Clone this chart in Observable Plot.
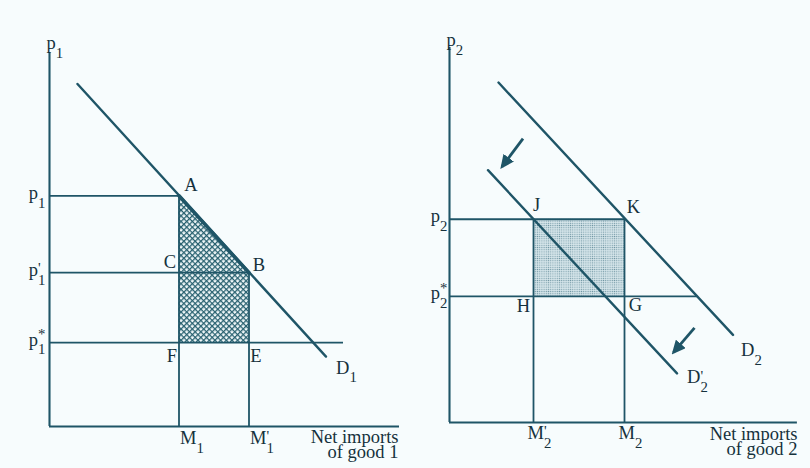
<!DOCTYPE html>
<html>
<head>
<meta charset="utf-8">
<script src="https://cdn.jsdelivr.net/npm/d3@7"></script>
<script src="https://cdn.jsdelivr.net/npm/@observablehq/plot@0.6"></script>
<style>
  html, body { margin: 0; padding: 0; background: #f7fcfd; }
  #page { position: relative; width: 810px; height: 468px; overflow: hidden; }
  .panel { position: absolute; top: 0; }
  #good1 { left: 0; }
  #good2 { left: 400px; }
</style>
</head>
<body>
<div id="page">
  <div class="panel" id="good1"></div>
  <div class="panel" id="good2"></div>
</div>
<script>
const ink = "#15313c";
const stroke = "#1f5567";
const serif = "Liberation Serif, Times New Roman, serif";

// ---- Market for good 1: a tariff cut lowers the price from p1 to p1'
const good1Demand = [{q: 8, p: 98}, {q: 79, p: 20}];
const good1Prices = [66, 44, 24];              // p1, p1', p1*
const good1PriceNames = ["p|1|", "p|1|'", "p|1|*"];
const good1PriceReach = [37, 57, 84];
const good1Imports = [37, 57];                 // M1, M1'
const good1ImportNames = ["M|1|", "M|1|'"];
const good1ImportHeight = [66, 44];
const good1Points = [
  {name: "A", q: 37, p: 66},
  {name: "B", q: 57, p: 44},
  {name: "C", q: 37, p: 44},
  {name: "E", q: 57, p: 24},
  {name: "F", q: 37, p: 24}
];

// ---- Market for good 2: demand shifts in from D2 to D2'
const good2Demand = [{q: 14, p: 97}, {q: 81, p: 25}];
const good2DemandShifted = [{q: 11, p: 72}, {q: 65, p: 14}];
const good2Prices = [58, 36];                  // p2, p2*
const good2PriceNames = ["p|2|", "p|2|*"];
const good2PriceReach = [50, 71];
const good2Imports = [24, 50];                 // M2', M2
const good2ImportNames = ["M|2|'", "M|2|"];
const good2ImportHeight = [58, 58];
const good2Points = [
  {name: "J", q: 24, p: 58},
  {name: "K", q: 50, p: 58},
  {name: "H", q: 24, p: 36},
  {name: "G", q: 50, p: 36}
];
const good2Shifts = [
  {q1: 21, p1: 81, q2: 15, p2: 73},
  {q1: 70, p1: 27, q2: 64, p2: 20}
];

// label nudges (pixels) relative to the labelled point
const pointNudge = {
  A: [12, -11], B: [10, -8], C: [-9, -11], E: [7, 13], F: [-7, 13],
  J: [3, -14], K: [9, -12], H: [-10, 10], G: [11, 9]
};

// patterns and arrowhead used by the panels
function defs() {
  const g = d3.create("svg:g");
  const d = g.append("defs");
  const hatch = d.append("pattern").attr("id", "crosshatch")
    .attr("patternUnits", "userSpaceOnUse").attr("width", 4).attr("height", 4)
    .attr("patternTransform", "rotate(45)");
  hatch.append("rect").attr("width", 4).attr("height", 4).attr("fill", "#f2f9fa");
  hatch.append("path").attr("d", "M0,0.65H4M0.65,0V4")
    .attr("stroke", "#27606f").attr("stroke-width", 1.3).attr("fill", "none");
  const stip = d.append("pattern").attr("id", "stipple")
    .attr("patternUnits", "userSpaceOnUse").attr("width", 2.2).attr("height", 2.2);
  stip.append("rect").attr("width", 2.2).attr("height", 2.2).attr("fill", "#d5e5ea");
  stip.append("circle").attr("cx", 1.1).attr("cy", 1.1).attr("r", 0.62).attr("fill", "#7096a3");
  const head = d.append("marker").attr("id", "shiftHead")
    .attr("viewBox", "0 0 10 10").attr("refX", 8).attr("refY", 5)
    .attr("markerUnits", "userSpaceOnUse").attr("markerWidth", 14).attr("markerHeight", 13)
    .attr("preserveAspectRatio", "none").attr("orient", "auto");
  head.append("path").attr("d", "M0,0L10,5L0,10Z").attr("fill", stroke);
  return g.node();
}

// "base|sub|sup" -> base with stacked subscript and superscript
function enrich(svg) {
  d3.select(svg).selectAll("text").each(function () {
    const raw = this.textContent;
    if (!raw.includes("|")) return;
    const [base, sub, sup] = raw.split("|");
    const t = d3.select(this).text(null);
    t.append("tspan").text(base);
    t.append("tspan").attr("font-size", "0.8em").attr("dy", "0.6em").text(sub);
    if (sup) t.append("tspan").attr("font-size", "0.8em")
      .attr("dx", `-${0.5 * sub.length}em`)
      .attr("dy", sup === "*" ? "-1.05em" : "-0.78em").text(sup);
  });
  d3.select(svg).selectAll('g[aria-label="link"] path').attr("marker-end", "url(#shiftHead)");
  return svg;
}

const textStyle = {fontFamily: serif, fontSize: 18.5, fill: ink};

function axesMarks(xMax, yMax) {
  return [
    Plot.ruleX([0], {y1: 0, y2: yMax, stroke, strokeWidth: 2.1}),
    Plot.ruleY([0], {x1: 0, x2: xMax, stroke, strokeWidth: 2.1})
  ];
}

function pointLabels(points) {
  return points.map(d => Plot.text([d], {
    x: "q", y: "p", text: "name",
    dx: pointNudge[d.name][0], dy: pointNudge[d.name][1],
    ...textStyle
  }));
}

// ---------------- good 1 ----------------
const priceRows1 = good1Prices.map((p, i) => ({p, reach: good1PriceReach[i], name: good1PriceNames[i]}));
const importRows1 = good1Imports.map((q, i) => ({q, top: good1ImportHeight[i], name: good1ImportNames[i]}));
const gainTop1 = [good1Points[0], good1Points[1]];

const plot1 = Plot.plot({
  width: 405, height: 468,
  marginLeft: 49, marginRight: 6, marginTop: 52, marginBottom: 42,
  x: {domain: [0, 100], axis: null},
  y: {domain: [0, 107], axis: null},
  style: {background: "transparent", color: ink, fontFamily: serif},
  marks: [
    defs,
    Plot.areaY(gainTop1, {x: "q", y1: good1Prices[2], y2: "p", fill: "url(#crosshatch)", curve: "linear"}),
    Plot.ruleY(priceRows1, {y: "p", x1: 0, x2: "reach", stroke, strokeWidth: 1.8}),
    Plot.ruleX(importRows1, {x: "q", y1: 0, y2: "top", stroke, strokeWidth: 1.8}),
    ...axesMarks(100, 107),
    Plot.line(good1Demand, {x: "q", y: "p", stroke, strokeWidth: 2.4}),
    Plot.line(gainTop1, {x: "q", y: "p", stroke, strokeWidth: 3.6}),
    ...pointLabels(good1Points),
    Plot.text(priceRows1, {x: 0, y: "p", text: "name", textAnchor: "end", dx: -4, dy: -3, ...textStyle}),
    Plot.text(importRows1, {x: "q", y: 0, text: "name", textAnchor: "start", dx: 1, dy: 11.5, ...textStyle}),
    Plot.text([{q: 0, p: 107, name: "p|1|"}], {x: "q", y: "p", text: "name", textAnchor: "start", dx: -3, dy: -9, ...textStyle}),
    Plot.text([{q: good1Demand[1].q, p: good1Demand[1].p, name: "D|1|"}], {x: "q", y: "p", text: "name", textAnchor: "start", dx: 10, dy: 11, ...textStyle}),
    Plot.text([{q: 100, p: 0, name: "Net imports"}], {x: "q", y: "p", text: "name", textAnchor: "end", dx: -1, dy: 11, ...textStyle}),
    Plot.text([{q: 100, p: 0, name: "of good 1"}], {x: "q", y: "p", text: "name", textAnchor: "end", dx: -1, dy: 25.5, ...textStyle})
  ]
});
document.getElementById("good1").append(enrich(plot1));

// ---------------- good 2 ----------------
const priceRows2 = good2Prices.map((p, i) => ({p, reach: good2PriceReach[i], name: good2PriceNames[i]}));
const importRows2 = good2Imports.map((q, i) => ({q, top: good2ImportHeight[i], name: good2ImportNames[i]}));

const plot2 = Plot.plot({
  width: 410, height: 468,
  marginLeft: 49, marginRight: 11, marginTop: 47, marginBottom: 46,
  x: {domain: [0, 100], axis: null},
  y: {domain: [0, 107], axis: null},
  style: {background: "transparent", color: ink, fontFamily: serif},
  marks: [
    defs,
    Plot.rect([{}], {x1: good2Imports[0], x2: good2Imports[1], y1: good2Prices[1], y2: good2Prices[0], fill: "url(#stipple)"}),
    Plot.ruleY(priceRows2, {y: "p", x1: 0, x2: "reach", stroke, strokeWidth: 1.8}),
    Plot.ruleX(importRows2, {x: "q", y1: 0, y2: "top", stroke, strokeWidth: 1.8}),
    ...axesMarks(99.4, 107),
    Plot.line(good2Demand, {x: "q", y: "p", stroke, strokeWidth: 2.4}),
    Plot.line(good2DemandShifted, {x: "q", y: "p", stroke, strokeWidth: 2.4}),
    Plot.link(good2Shifts, {x1: "q1", y1: "p1", x2: "q2", y2: "p2", stroke, strokeWidth: 2.8}),
    ...pointLabels(good2Points),
    Plot.text(priceRows2, {x: 0, y: "p", text: "name", textAnchor: "end", dx: -2, dy: -3, ...textStyle}),
    Plot.text(importRows2, {x: "q", y: 0, text: "name", textAnchor: "start", dx: -6, dy: 10.5, ...textStyle}),
    Plot.text([{q: 0, p: 107, name: "p|2|"}], {x: "q", y: "p", text: "name", textAnchor: "start", dx: -3, dy: -7, ...textStyle}),
    Plot.text([{q: good2Demand[1].q, p: good2Demand[1].p, name: "D|2|"}], {x: "q", y: "p", text: "name", textAnchor: "start", dx: 8, dy: 15, ...textStyle}),
    Plot.text([{q: good2DemandShifted[1].q, p: good2DemandShifted[1].p, name: "D|2|'"}], {x: "q", y: "p", text: "name", textAnchor: "start", dx: 10, dy: 4, ...textStyle}),
    Plot.text([{q: 100, p: 0, name: "Net imports"}], {x: "q", y: "p", text: "name", textAnchor: "end", dx: -2, dy: 12, ...textStyle}),
    Plot.text([{q: 100, p: 0, name: "of good 2"}], {x: "q", y: "p", text: "name", textAnchor: "end", dx: -2, dy: 26.5, ...textStyle})
  ]
});
document.getElementById("good2").append(enrich(plot2));
</script>
</body>
</html>
